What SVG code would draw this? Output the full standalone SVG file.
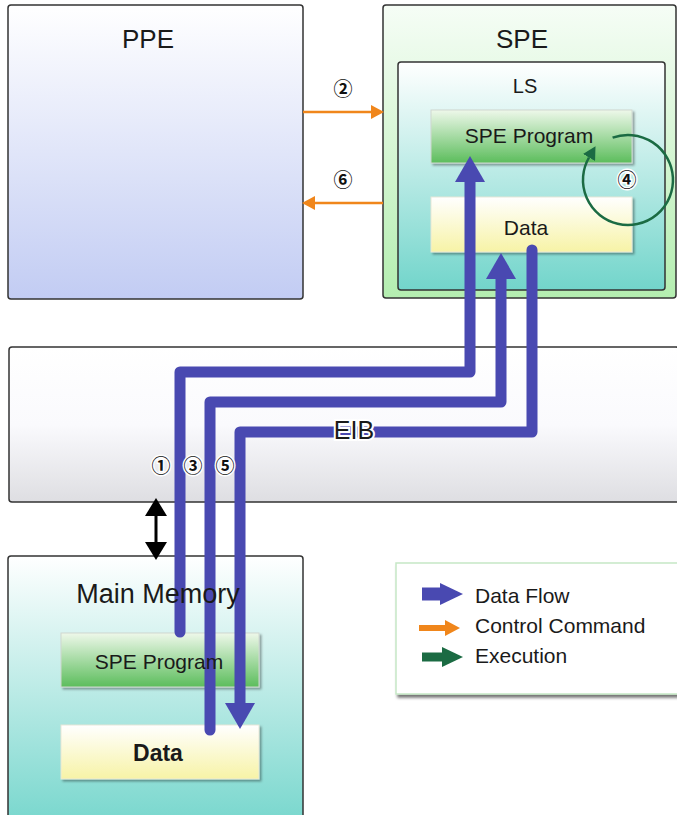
<svg xmlns="http://www.w3.org/2000/svg" width="677" height="815" viewBox="0 0 677 815">
<defs>
<linearGradient id="gPPE" x1="0" y1="0" x2="0" y2="1"><stop offset="0" stop-color="#ffffff"/><stop offset="1" stop-color="#c2ccf3"/></linearGradient>
<linearGradient id="gSPE" x1="0" y1="0" x2="0" y2="1"><stop offset="0" stop-color="#f6fdf6"/><stop offset="1" stop-color="#b4eeb0"/></linearGradient>
<linearGradient id="gLS" x1="0" y1="0" x2="0" y2="1"><stop offset="0" stop-color="#ffffff"/><stop offset="1" stop-color="#72d5cb"/></linearGradient>
<linearGradient id="gProg" x1="0" y1="0" x2="0" y2="1"><stop offset="0" stop-color="#eef8ea"/><stop offset="1" stop-color="#5cbd5c"/></linearGradient>
<linearGradient id="gData" x1="0" y1="0" x2="0" y2="1"><stop offset="0" stop-color="#ffffff"/><stop offset="1" stop-color="#f7f3a6"/></linearGradient>
<linearGradient id="gEIB" x1="0" y1="0" x2="0" y2="1"><stop offset="0" stop-color="#ffffff"/><stop offset="0.5" stop-color="#fafafd"/><stop offset="1" stop-color="#dedee2"/></linearGradient>
<linearGradient id="gMM" x1="0" y1="0" x2="0" y2="1"><stop offset="0" stop-color="#ffffff"/><stop offset="1" stop-color="#72d5cb"/></linearGradient>
<filter id="shadow" x="-10%" y="-10%" width="130%" height="140%"><feDropShadow dx="2" dy="2" stdDeviation="1.2" flood-color="#000" flood-opacity="0.35"/></filter>
<filter id="shadowL" x="-10%" y="-10%" width="130%" height="140%"><feDropShadow dx="2" dy="3" stdDeviation="1.5" flood-color="#000" flood-opacity="0.55"/></filter>
<marker id="blueHead" markerUnits="userSpaceOnUse" markerWidth="28" markerHeight="30" viewBox="0 0 28 30" refX="0" refY="15" orient="auto"><path d="M0,0 L26,15 L0,30 Z" fill="#4949b1"/></marker>
<marker id="orangeHead" markerUnits="userSpaceOnUse" markerWidth="14" markerHeight="14" viewBox="0 0 14 14" refX="0" refY="7" orient="auto"><path d="M0,0 L13,7 L0,14 Z" fill="#f0861b"/></marker>
<marker id="greenHead" markerUnits="userSpaceOnUse" markerWidth="14" markerHeight="14" viewBox="0 0 14 14" refX="0" refY="7" orient="auto"><path d="M0,0 L13,7 L0,14 Z" fill="#1b6b43"/></marker>
<marker id="blackHead" markerUnits="userSpaceOnUse" markerWidth="20" markerHeight="22" viewBox="0 0 20 22" refX="0" refY="11" orient="auto-start-reverse"><path d="M0,0 L18,11 L0,22 Z" fill="#000"/></marker>
<style>
.box{stroke:#333;stroke-width:1.5}
.t{font-family:"Liberation Sans",Arial,sans-serif;fill:#1a1a1a;text-anchor:middle}
.big{font-size:26px}
.mid{font-size:21px}
.num{font-family:"Noto Sans CJK JP","DejaVu Sans",sans-serif;font-size:19px;font-weight:bold;fill:#111;text-anchor:middle;stroke:#fff;stroke-width:3;paint-order:stroke}
.flow{fill:none;stroke:#4949b1;stroke-width:11;stroke-linejoin:round;stroke-linecap:round}
.ctrl{fill:none;stroke:#f0861b;stroke-width:2.5}
.exec{fill:none;stroke:#1b6b43;stroke-width:2.5}
.leg{font-family:"Liberation Sans",Arial,sans-serif;font-size:21px;fill:#1a1a1a}
</style>
</defs>
<rect width="677" height="815" fill="#ffffff"/>

<g id="ppe">
<rect class="box" x="8" y="5" width="295" height="294" rx="3" fill="url(#gPPE)"/>
<text class="t big" x="148" y="48">PPE</text>
</g>

<g id="spe">
<rect class="box" x="383" y="5" width="293" height="293" rx="3" fill="url(#gSPE)"/>
<text class="t big" x="522" y="48">SPE</text>
</g>

<g id="ls">
<rect class="box" x="398" y="62" width="267" height="228" rx="3" fill="url(#gLS)"/>
<text class="t" x="525" y="93" style="font-size:20px">LS</text>
</g>

<g id="ls-spe-program">
<rect x="431" y="110" width="201" height="53" fill="url(#gProg)" stroke="#d0d8d0" stroke-width="1" filter="url(#shadow)"/>
<text class="t mid" x="529" y="143">SPE Program</text>
</g>

<g id="ls-data">
<rect x="431" y="197" width="201" height="55" fill="url(#gData)" stroke="#e8e8d8" stroke-width="1" filter="url(#shadow)"/>
<text class="t mid" x="526" y="235">Data</text>
</g>

<g id="eib">
<rect class="box" x="9" y="347" width="670" height="155" rx="3" fill="url(#gEIB)"/>
</g>

<g id="main-memory">
<rect class="box" x="8" y="556" width="295" height="280" rx="3" fill="url(#gMM)"/>
</g>

<g id="mm-spe-program">
<rect x="61" y="633" width="198" height="54" fill="url(#gProg)" stroke="#d0d8d0" stroke-width="1" filter="url(#shadow)"/>
</g>

<g id="mm-data">
<rect x="61" y="725" width="198" height="54" fill="url(#gData)" stroke="#e8e8d8" stroke-width="1" filter="url(#shadow)"/>
<text class="t" x="158" y="761" style="font-size:23px;font-weight:bold">Data</text>
</g>

<g id="legend">
<rect x="396" y="563" width="284" height="131" fill="#ffffff" stroke="#c6e8c6" stroke-width="1.5" filter="url(#shadowL)"/>
<path d="M422,594 H440" stroke="#4949b1" stroke-width="13" fill="none"/>
<path d="M440,583 L463,594 L440,605 Z" fill="#4949b1"/>
<text class="leg" x="475" y="603">Data Flow</text>
<path d="M419,628 H445" stroke="#f0861b" stroke-width="6" fill="none"/>
<path d="M445,620 L460,628 L445,636 Z" fill="#f0861b"/>
<text class="leg" x="475" y="633">Control Command</text>
<path d="M422,657 H442" stroke="#1b6b43" stroke-width="9" fill="none"/>
<path d="M442,647 L463,657 L442,667 Z" fill="#1b6b43"/>
<text class="leg" x="475" y="663">Execution</text>
</g>

<g id="connectors">
<path class="flow" d="M180,632 V372 H470 V182" marker-end="url(#blueHead)"/>
<path class="flow" d="M210,730 V402 H501 V279" marker-end="url(#blueHead)"/>
<path class="flow" d="M532,250 V432 H240 V703" marker-end="url(#blueHead)"/>
<path class="ctrl" d="M303,112 H371" marker-end="url(#orangeHead)"/>
<path class="ctrl" d="M383,203 H315" marker-end="url(#orangeHead)"/>
<path class="exec" d="M612.6,137.7 A45,45 0 1 1 589,157.5" marker-end="url(#greenHead)"/>
<path d="M156,516 V542" stroke="#000" stroke-width="3" marker-start="url(#blackHead)" marker-end="url(#blackHead)" fill="none"/>
</g>

<g id="labels">
<text class="t" x="158" y="603" style="font-size:27px">Main Memory</text>
<text class="t mid" x="159" y="669">SPE Program</text>
<text class="t" x="354" y="439" style="font-size:25px;stroke:#fff;stroke-width:4;paint-order:stroke">EIB</text>
<text class="num" x="343" y="96">②</text>
<text class="num" x="343" y="187">⑥</text>
<text class="num" x="627" y="187">④</text>
<text class="num" x="161" y="473">①</text>
<text class="num" x="193" y="473">③</text>
<text class="num" x="225" y="473">⑤</text>
</g>
</svg>
